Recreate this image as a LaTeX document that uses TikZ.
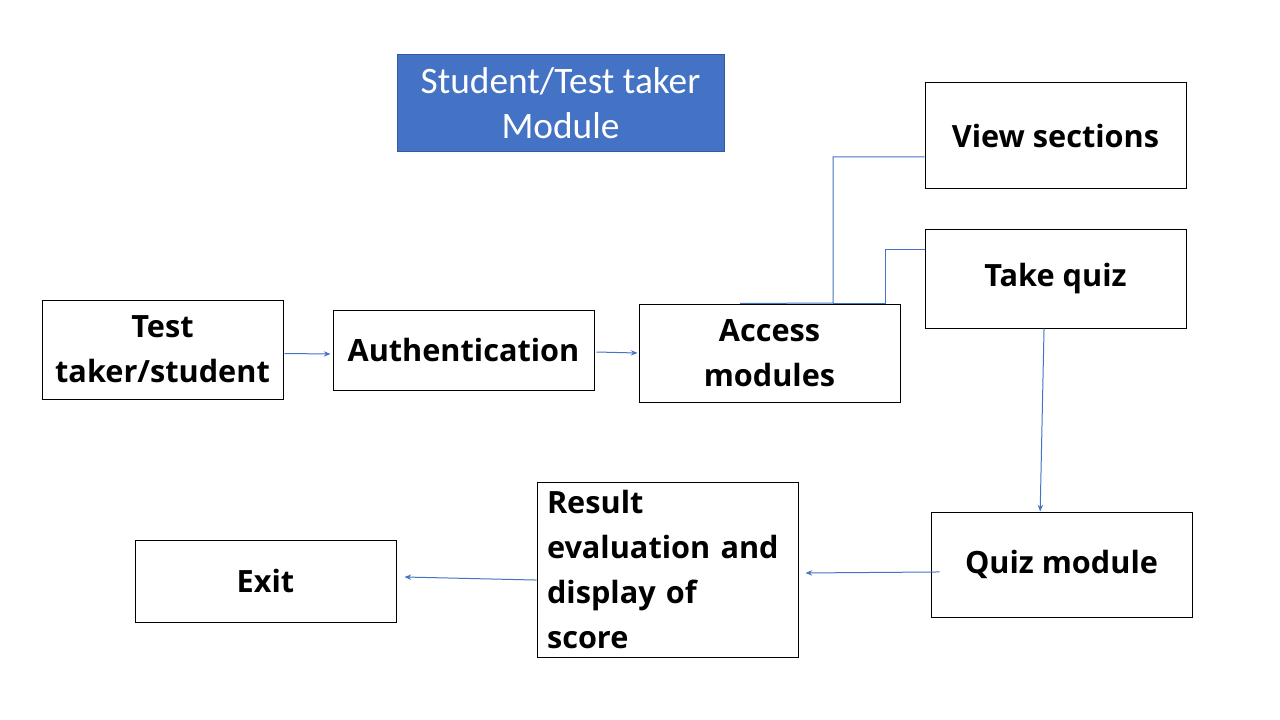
\documentclass[tikz,border=0pt]{standalone}
\usepackage{fontspec}
\setmainfont{Carlito}
\newfontfamily\boxfont{Open Sans}
\usetikzlibrary{arrows.meta}

\definecolor{slideblue}{HTML}{4472C4}

\tikzset{
	box/.style = {draw = black, line width = 0.75pt, inner sep = 0pt, align = center,
		minimum width = 195.75pt, font = \boxfont\bfseries\fontsize{23}{33.75}\selectfont},
	link/.style = {draw = slideblue, line width = 0.75pt},
	arr/.style = {link, -{Stealth[length = 5pt, width = 4pt]}}
}

\begin{document}
\begin{tikzpicture}[x = 0.75pt, y = -0.75pt]
		\useasboundingbox (0,0) rectangle (1280,720);
		
		\node [fill = slideblue, draw = slideblue!80!black, line width = 0.75pt, text = white, align = center,
			minimum width = 245.25pt, minimum height = 72.75pt,
			font = \fontsize{28}{33.6}\selectfont] (title) at (560.5,103.5) {Student/Test taker\\Module};
		
		\node [box, minimum width = 180.75pt, minimum height = 74.25pt] (student) at (162.5,349.5) {Test\\taker/student};
		\node [box, minimum height = 60pt] (auth) at (463.5,350) {Authentication};
		\node [box, minimum height = 73.5pt] (access) at (769.5,353) {Access\\modules};
		\node [box, minimum height = 79.5pt] (view) at (1055.5,136) {View sections};
		\node [box, minimum height = 73.5pt] (take) at (1055.5,279) {Take quiz};
		\node [box, minimum height = 78.75pt] (quizmod) at (1061.5,564.5) {Quiz module};
		\node [box, minimum height = 131.25pt, text width = 180.75pt, align = left] (result) at (667.5,569.5)
			{Result\\evaluation and\\display of\\score};
		\node [box, minimum height = 61.5pt] (exit) at (265.5,581) {Exit};
		
		\coordinate (fork) at (833,303);
		
		% access modules to its two options
		\draw [link] ([xshift = -22pt]access.north) -- (fork) |- ([yshift = -15.75pt]view.west);
		\draw [link] (fork) -- ++(52,0) |- ([yshift = 22.5pt]take.west);
		
		\draw [arr] ([xshift = 0.75pt, yshift = -3pt]student.east) -- ([xshift = -1.5pt, yshift = -3pt]auth.west);
		\draw [arr] ([xshift = 1.5pt, yshift = -1.5pt]auth.east) -- ([xshift = -0.75pt]access.west);
		\draw [arr] ([xshift = -8.6pt]take.south) -- ([xshift = -16pt]quizmod.north);
		\draw [arr] ([xshift = 6.75pt, yshift = -5.6pt]quizmod.west) -- ([xshift = 5.25pt, yshift = -2.6pt]result.east);
		\draw [arr] ([yshift = -7.9pt]result.west) -- ([xshift = 6pt, yshift = 3pt]exit.east);
	\end{tikzpicture}
\end{document}
